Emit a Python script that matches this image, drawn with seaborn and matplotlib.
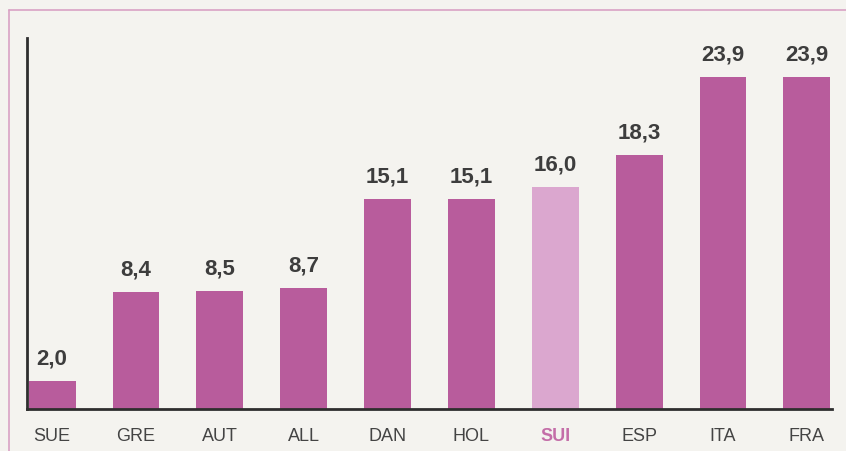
import matplotlib
matplotlib.use("Agg")
import matplotlib.pyplot as plt
import seaborn as sns
import pandas as pd
from matplotlib.lines import Line2D

countries = ["SUE", "GRE", "AUT", "ALL", "DAN", "HOL", "SUI", "ESP", "ITA", "FRA"]
values = [2.0, 8.4, 8.5, 8.7, 15.1, 15.1, 16.0, 18.3, 23.9, 23.9]
labels = ["2,0", "8,4", "8,5", "8,7", "15,1", "15,1", "16,0", "18,3", "23,9", "23,9"]
highlight = "SUI"

main_color = "#b85c9c"
light_color = "#dba7cf"
bg = "#f4f3ef"
text_color = "#3d3d3d"

sns.set_theme(style="white")
plt.rcParams["font.family"] = ["Liberation Sans", "DejaVu Sans"]

df = pd.DataFrame({"country": countries, "value": values})
palette = {c: (light_color if c == highlight else main_color) for c in countries}

fig = plt.figure(figsize=(8.46, 4.52), dpi=100, facecolor=bg)
ax = fig.add_axes([27 / 846, 42 / 452, 805 / 846, 371 / 452])
ax.set_facecolor(bg)

sns.barplot(data=df, x="country", y="value", hue="country", palette=palette,
            legend=False, width=0.56, saturation=1, ax=ax, order=countries,
            linewidth=0, edgecolor="none")

ax.set_xlim(-0.3, 9.3)
ax.set_ylim(0, 26.7)
ax.set_xlabel("")
ax.set_ylabel("")
ax.set_yticks([])
ax.tick_params(axis="x", length=0, pad=13, labelsize=13, labelcolor="#444444")
for t in ax.get_xticklabels():
    if t.get_text() == highlight:
        t.set_color("#c46ea8")
        t.set_fontweight("bold")

for s in ["top", "right"]:
    ax.spines[s].set_visible(False)
for s in ["left", "bottom"]:
    ax.spines[s].set_color("#2e2e2e")
    ax.spines[s].set_linewidth(2)

for i, (v, lab) in enumerate(zip(values, labels)):
    ax.annotate(lab, (i, v), xytext=(0, 9), textcoords="offset points",
                ha="center", va="bottom", fontsize=16, fontweight="bold",
                color=text_color)

# pink frame lines
fig.add_artist(Line2D([9 / 846, 1], [1 - 11 / 452, 1 - 11 / 452],
                      transform=fig.transFigure, color="#d9a2c4", lw=1.2))
fig.add_artist(Line2D([9 / 846, 9 / 846], [0, 1 - 11 / 452],
                      transform=fig.transFigure, color="#d9a2c4", lw=1.2))

fig.savefig("out.png", dpi=100, facecolor=bg)
